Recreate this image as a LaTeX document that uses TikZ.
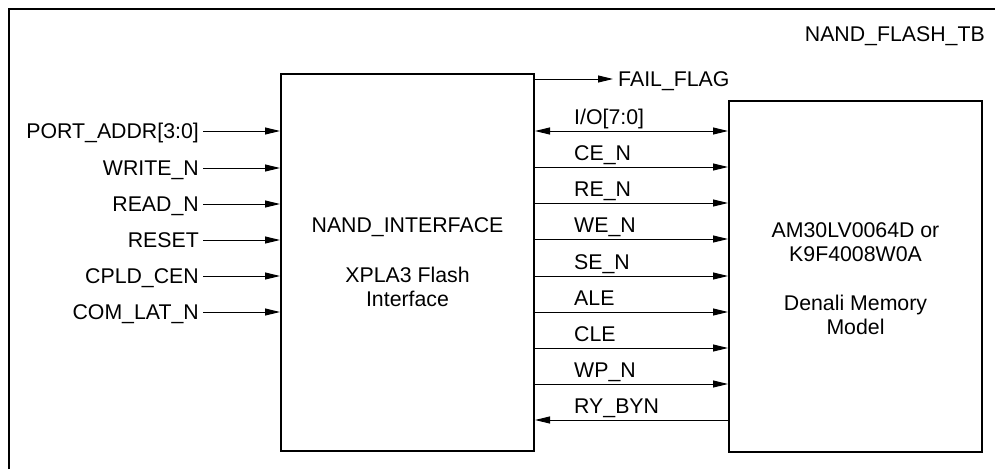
\documentclass[tikz,border=0pt]{standalone}
\usepackage{fontspec}
\setmainfont{Liberation Sans}
\usetikzlibrary{arrows.meta}
\begin{document}
\begin{tikzpicture}[x=1pt,y=-1pt,
  sig/.style={line width=1pt,-{Triangle[length=15pt,width=7pt]}},
  bisig/.style={line width=1pt,{Triangle[length=15pt,width=7pt]}-{Triangle[length=15pt,width=7pt]}},
  blk/.style={draw,line width=2pt,inner sep=0pt},
  lbl/.style={font=\fontsize{21.3}{24}\selectfont,inner sep=0pt},
  ctext/.style={font=\fontsize{21.3}{24}\selectfont,align=center,inner sep=0pt}]
\useasboundingbox (0,0) rectangle (995,469);
% outer frame (open at right and bottom)
\draw[line width=2pt] (9,469) -- (9,9) -- (995,9);
\node[lbl,anchor=base east] (tb) at (985,41) {NAND\_FLASH\_TB};
% blocks
\node[blk,minimum width=253pt,minimum height=377pt] (ni) at (407.5,262.5) {};
\node[blk,minimum width=253pt,minimum height=351pt] (mem) at (855.5,276) {};
\node[ctext] (nit) at (407.5,227) {NAND\_INTERFACE};
\node[ctext] (nit2) at (407.5,287) {XPLA3 Flash\\Interface};
\node[ctext] (mt) at (855.5,242) {AM30LV0064D or\\K9F4008W0A};
\node[ctext] (mt2) at (855.5,315) {Denali Memory\\Model};
% inputs
\foreach \n/\t/\y in {pa/PORT\_ADDR[3:0]/131, wn/WRITE\_N/168, rn/READ\_N/204, rs/RESET/240, cc/CPLD\_CEN/276, cl/COM\_LAT\_N/312}{
  \node[lbl,anchor=base east] (\n) at (199,\y+7.5) {\t};
  \coordinate (\n s) at (203,\y);
  \coordinate (\n e) at (ni.west |- 0,\y);
  \draw[sig] (\n s) -- (\n e);
}
% fail flag
\coordinate (ffs) at (ni.east |- 0,79);
\node[lbl,anchor=base west] (ff) at (618,86.5) {FAIL\_FLAG};
\coordinate (ffe) at (613,79);
\draw[sig] (ffs) -- (ffe);
% bus signals
\coordinate (io1) at (ni.east |- 0,131);
\coordinate (io2) at (mem.west |- 0,131);
\draw[bisig] (io1) -- (io2);
\node[lbl,anchor=base west] (iol) at (574,124) {I/O[7:0]};
\foreach \n/\t/\y in {ce/CE\_N/167, re/RE\_N/203, we/WE\_N/239, se/SE\_N/276, al/ALE/312, cle/CLE/348, wp/WP\_N/384}{
  \coordinate (\n1) at (ni.east |- 0,\y);
  \coordinate (\n2) at (mem.west |- 0,\y);
  \draw[sig] (\n1) -- (\n2);
  \node[lbl,anchor=base west] (\n l) at (574,\y-7) {\t};
}
\coordinate (ry1) at (ni.east |- 0,420);
\coordinate (ry2) at (mem.west |- 0,420);
\draw[sig] (ry2) -- (ry1);
\node[lbl,anchor=base west] (ryl) at (574,413) {RY\_BYN};
\end{tikzpicture}
\end{document}
